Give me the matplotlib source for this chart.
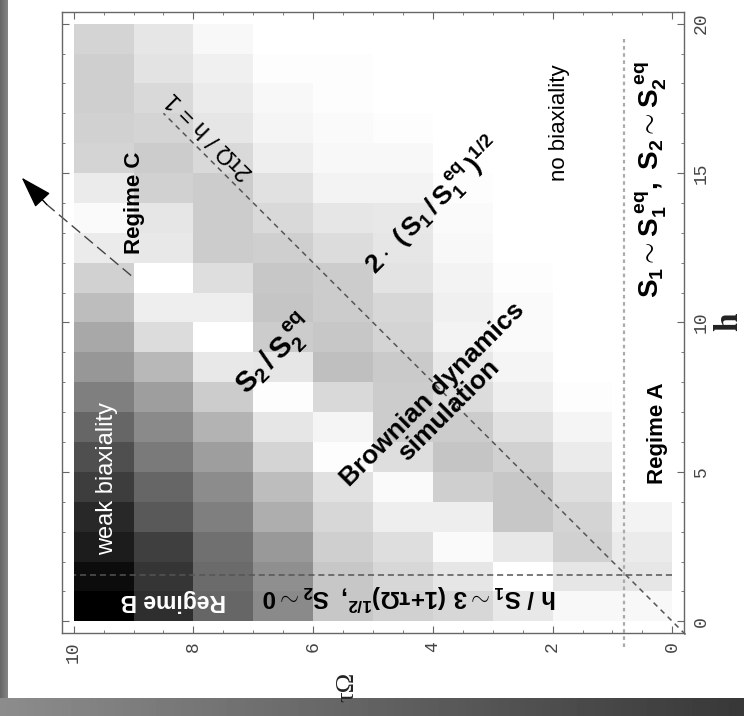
import matplotlib
matplotlib.use("Agg")
import matplotlib.pyplot as plt
import numpy as np
from matplotlib.ticker import MultipleLocator

plt.rcParams['font.family'] = ['Liberation Sans', 'DejaVu Sans']
plt.rcParams['mathtext.fontset'] = 'custom'
plt.rcParams['mathtext.rm'] = 'Liberation Sans:bold'
plt.rcParams['mathtext.it'] = 'Liberation Sans:bold'
plt.rcParams['mathtext.bf'] = 'Liberation Sans:bold'

# grid edges
tau_edges = np.arange(0, 11)      # tau*Omega, 0..10
h_edges = np.arange(0, 21)        # h, 0..20

# biaxiality (0 = none / white, 1 = strong / black), one list per tau-Omega column,
# values listed from h=0-1 up to h=19-20
col_t0 = [0.03, 0.10, 0.08, 0.05, 0, 0, 0, 0, 0, 0, 0, 0, 0, 0, 0, 0, 0, 0, 0, 0]
col_t1 = [0.03, 0.10, 0.18, 0.17, 0.13, 0.08, 0.04, 0.01, 0, 0, 0, 0, 0, 0, 0, 0, 0, 0, 0, 0]
col_t2 = [0.09, 0.00, 0.09, 0.22, 0.22, 0.18, 0.12, 0.07, 0.04, 0.02, 0.02, 0.01, 0, 0, 0, 0, 0, 0, 0, 0]
col_t3 = [0.16, 0.10, 0.02, 0.07, 0.19, 0.23, 0.20, 0.14, 0.09, 0.05, 0.06, 0.05, 0.03, 0.02, 0.01, 0, 0, 0, 0, 0]
col_t4 = [0.18, 0.16, 0.13, 0.07, 0.02, 0.13, 0.20, 0.20, 0.21, 0.17, 0.16, 0.11, 0.10, 0.09, 0.05, 0.03, 0.01, 0, 0, 0]
col_t5 = [0.22, 0.22, 0.19, 0.16, 0.12, 0.01, 0.04, 0.15, 0.25, 0.22, 0.20, 0.20, 0.14, 0.10, 0.05, 0.03, 0.02, 0.01, 0.01, 0]
col_t6 = [0.46, 0.44, 0.40, 0.32, 0.26, 0.17, 0.10, 0.01, 0.10, 0.20, 0.23, 0.22, 0.19, 0.15, 0.12, 0.07, 0.04, 0.03, 0.01, 0]
col_t7 = [0.60, 0.58, 0.56, 0.50, 0.45, 0.38, 0.30, 0.20, 0.09, 0.00, 0.07, 0.13, 0.20, 0.20, 0.20, 0.15, 0.10, 0.08, 0.06, 0.03]
col_t8 = [0.82, 0.79, 0.75, 0.65, 0.60, 0.52, 0.46, 0.38, 0.28, 0.14, 0.07, 0.00, 0.09, 0.10, 0.18, 0.20, 0.17, 0.15, 0.11, 0.10]
col_t9 = [1.00, 0.95, 0.89, 0.84, 0.76, 0.69, 0.60, 0.50, 0.41, 0.34, 0.26, 0.18, 0.08, 0.02, 0.08, 0.17, 0.18, 0.19, 0.19, 0.17]

biax = np.array([col_t0, col_t1, col_t2, col_t3, col_t4,
                 col_t5, col_t6, col_t7, col_t8, col_t9]).T   # shape (h, tau)

h_cross = 1.54      # horizontal dashed boundary
tau_cross = 0.8     # dotted boundary

bottom_ticks = [10, 8, 6, 4, 2, 0]
right_ticks = [0, 5, 10, 15, 20]

W, H = 744, 716
fig = plt.figure(figsize=(W / 100, H / 100), dpi=100)

# framing bands around the picture
bg = fig.add_axes([0, 0, 1, 1], zorder=-10)
bg.set_xlim(0, W)
bg.set_ylim(H, 0)
bg.axis('off')
grad = np.linspace(0.55, 0.22, 200)[None, :]
bg.imshow(grad, extent=[0, W, H, 698], cmap='gray', vmin=0, vmax=1, aspect='auto')
bg.imshow(np.linspace(0.40, 0.52, 20)[None, :], extent=[0, 8, 698, 0], cmap='gray',
          vmin=0, vmax=1, aspect='auto')

ax = fig.add_axes([61.7 / W, 1 - 633.3 / H, (684.3 - 61.7) / W, (633.3 - 11.7) / H])
ax.pcolormesh(tau_edges, h_edges, biax, cmap='gray_r', vmin=0, vmax=1)
ax.set_xlim(10.2, -0.2)
ax.set_ylim(-0.4, 20.4)

dark = '#555555'
# 2 tau Omega / h = 1
tt = np.array([-0.22, 8.5])
ax.plot(tt, 2 * tt, ls=(0, (3.5, 3)), color=dark, lw=1.1, clip_on=False)
ax.plot([0, 10], [h_cross, h_cross], ls=(0, (4, 2.5)), color=dark, lw=1.1)
ax.plot([tau_cross, tau_cross], [19.5, -0.9], ls=(0, (1.6, 1.6)), color='#aaaaaa',
        lw=1.6, clip_on=False)

# arrow towards regime C
ax.plot([9.04, 10.45], [11.57, 13.95], ls=(0, (8, 4)), color='#444444', lw=1.0,
        clip_on=False)
ax.annotate('', xy=(10.87, 14.85), xytext=(10.45, 13.95), annotation_clip=False,
            arrowprops=dict(arrowstyle='-|>,head_length=1.0,head_width=0.32',
                            mutation_scale=20, color='black', lw=1,
                            shrinkA=0, shrinkB=0))

# labels inside the plot
kw = dict(ha='center', va='center', rotation_mode='anchor')
thin = ['Liberation Sans Narrow', 'Liberation Sans', 'DejaVu Sans']
ax.text(9.45, 4.78, 'weak biaxiality', rotation=90, color='white', fontsize=17,
        family=thin, **kw)
ax.text(8.33, 0.7, 'Regime B', rotation=180, color='white', fontsize=16.5,
        fontweight='bold', **kw)
ax.text(4.39, 0.8, r'$h\ /\ S_1 \sim 3\ (1{+}\tau\Omega)^{1/2},\ S_2 \sim 0$',
        rotation=180, fontsize=17.5, **kw)
ax.text(8.98, 14.0, 'Regime C', rotation=90, fontsize=16, fontweight='bold', **kw)
ax.text(7.73, 16.25, '2τΩ / h = 1', rotation=135, fontsize=17, **kw)
ax.text(6.64, 8.9, r'$S_2\,/\,S_2^{\,eq}$', rotation=45, fontsize=21, **kw)
ax.text(3.87, 7.32, 'Brownian dynamics\nsimulation', rotation=45, fontsize=19,
        fontweight='bold', multialignment='center', linespacing=0.95, **kw)
ax.text(3.99, 13.9, r'$2\cdot\ (\,S_1\,/\,S_1^{\,eq}\,)^{1/2}$', rotation=45,
        fontsize=19, **kw)
ax.text(1.88, 16.7, 'no biaxiality', rotation=90, fontsize=16, family=thin, **kw)
ax.text(0.25, 6.3, 'Regime A', rotation=90, fontsize=16, fontweight='bold', **kw)
ax.text(0.35, 14.8, r'$S_1 \sim S_1^{\,eq},\ S_2 \sim S_2^{\,eq}$', rotation=90,
        fontsize=20, **kw)

# frame and ticks
for s in ax.spines.values():
    s.set_color('#666666')
    s.set_linewidth(1.0)
ax.set_xticks(bottom_ticks)
ax.set_yticks(right_ticks)
ax.xaxis.set_minor_locator(MultipleLocator(0.5))
ax.yaxis.set_minor_locator(MultipleLocator(1))
ax.tick_params(which='both', direction='in', color='#666666', top=True, bottom=True,
               left=True, right=True, labelleft=False, labelright=True,
               labelbottom=True, labeltop=False)
ax.tick_params(which='major', length=5, width=0.8, pad=6)
ax.tick_params(which='minor', length=2.5, width=0.6)
for lab in ax.get_xticklabels() + ax.get_yticklabels():
    lab.set_family('Liberation Mono')
    lab.set_fontsize(13)
    lab.set_color('#444444')
    lab.set_rotation(90)
for lab in ax.get_yticklabels():
    lab.set_va('center')

fig.text(347 / W, 1 - 687 / H, 'τΩ', rotation=90, ha='center', va='center',
         family='Liberation Serif', fontsize=19, color='#222222')
fig.text(729 / W, 1 - 322 / H, 'h', rotation=90, ha='center', va='center',
         family='Liberation Serif', fontweight='bold', fontsize=24, color='#222222')

fig.savefig('out.png', dpi=100)
